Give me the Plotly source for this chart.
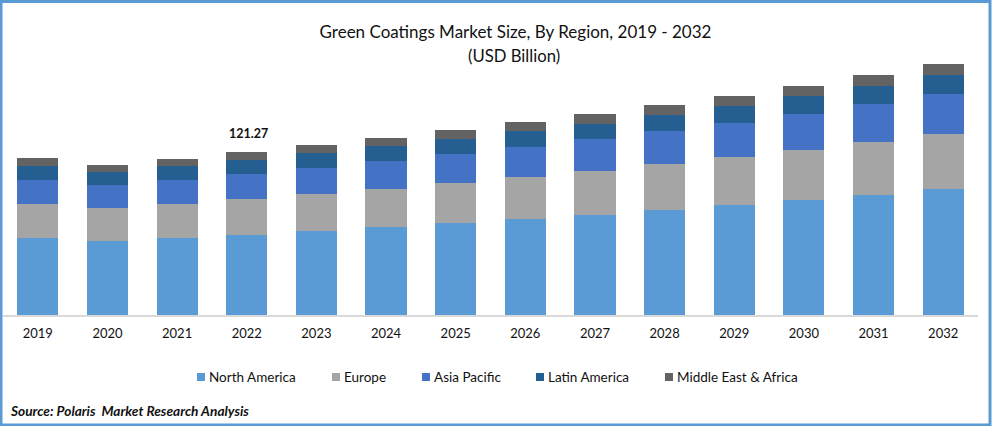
import plotly.graph_objects as go

years = ["2019","2020","2021","2022","2023","2024","2025","2026","2027","2028","2029","2030","2031","2032"]
north_america = [57.3,55.1,57.3,59.5,62.5,65.5,68.4,71.4,74.4,78.1,81.8,85.6,89.3,93.7]
europe = [25.3,24.6,25.3,26.8,27.5,28.3,29.8,31.2,32.7,34.2,35.7,37.2,39.4,40.9]
asia_pacific = [17.9,17.1,17.9,18.6,19.3,20.8,21.6,22.3,23.8,24.6,25.3,26.8,28.3,29.8]
latin_america = [10.4,9.7,10.4,10.4,11.2,11.2,11.2,11.9,11.2,11.9,12.6,13.4,13.4,14.1]
middle_east_africa = [6.0,5.2,5.2,6.0,6.0,6.0,6.7,6.7,7.4,7.4,7.4,7.4,8.2,8.2]
series = [
    ("North America", north_america, "#5B9BD5"),
    ("Europe", europe, "#A5A5A5"),
    ("Asia Pacific", asia_pacific, "#4472C4"),
    ("Latin America", latin_america, "#255E91"),
    ("Middle East & Africa", middle_east_africa, "#636363"),
]
label_year = "2022"
label_total = 121.27
W, H = 992, 426
FONT = "Lato"
INK = "#111111"

L, R, T, B = 3, 14, 60, 111
px = lambda v: (v - L) / (W - L - R)
py = lambda v: 1 - (v - T) / (H - T - B)

fig = go.Figure()
for name, vals, col in series:
    fig.add_trace(go.Bar(x=years, y=vals, name=name, marker=dict(color=col, line=dict(width=0)),
                         showlegend=False))

annotations = [
    dict(x=years.index(label_year), y=label_total, xref="x", yref="y", text="<b>%.2f</b>" % label_total,
         showarrow=False, yanchor="bottom", yshift=9, xshift=2,
         font=dict(family=FONT, size=12.5, color=INK)),
    dict(x=px(8), y=py(410), xref="paper", yref="paper", xanchor="left", yanchor="middle",
         text="<b><i>Source: Polaris  Market Research Analysis</i></b>", showarrow=False,
         font=dict(family=FONT, size=13.7, color=INK)),
    dict(x=px(514), y=py(56), xref="paper", yref="paper", xanchor="center", yanchor="middle",
         text="(USD Billion)", showarrow=False, font=dict(family=FONT, size=16.7, color=INK)),
]
shapes = [dict(type="rect", xref="paper", yref="paper", x0=px(1), x1=px(990), y0=py(425), y1=py(1.5),
               line=dict(color="#5B9BD5", width=3), fillcolor="rgba(0,0,0,0)", layer="above")]

# Legend row: swatch 8 px wide, text 4 px to its right
legend_left = [197, 332, 422, 536, 665]
for (name, vals, col), x0 in zip(series, legend_left):
    shapes.append(dict(type="rect", xref="paper", yref="paper", x0=px(x0), x1=px(x0 + 8),
                       y0=py(381), y1=py(373), fillcolor=col, line=dict(width=0)))
    annotations.append(dict(x=px(x0 + 10), y=py(376.5), xref="paper", yref="paper", xanchor="left",
                            yanchor="middle", text=name, showarrow=False,
                            font=dict(family=FONT, size=13.5, color=INK)))

fig.update_layout(
    width=W, height=H, barmode="stack", bargap=0.41,
    margin=dict(l=L, r=R, t=T, b=B, autoexpand=False),
    paper_bgcolor="white", plot_bgcolor="white",
    font=dict(family=FONT, color=INK, size=13),
    title=dict(text="Green Coatings Market Size, By Region, 2019 - 2032",
               x=515.5/W, xanchor="center", y=1-32/H, yanchor="middle",
               font=dict(family=FONT, size=17, color=INK)),
    xaxis=dict(type="category", range=[-0.5, 13.5], showline=True, linecolor="#D9D9D9", linewidth=2,
               ticks="", tickfont=dict(family=FONT, size=13, color=INK), ticklabelstandoff=5),
    yaxis=dict(range=[0, 189.7], visible=False, showgrid=False),
    showlegend=False,
    annotations=annotations,
    shapes=shapes,
)

fig.write_html("out.html", config={"displayModeBar": False},
               post_script="document.body.style.margin='0';")
